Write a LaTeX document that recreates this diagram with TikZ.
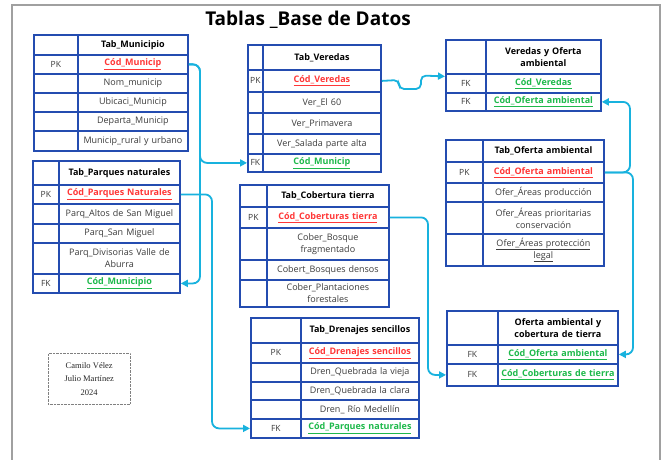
\documentclass[tikz,border=0pt]{standalone}
\usepackage{fontspec}
\setmainfont{Open Sans}
\newfontfamily\sigfont{Liberation Serif}
\usetikzlibrary{arrows.meta}
\definecolor{tblue}{RGB}{36,76,176}
\definecolor{tcyan}{RGB}{24,178,222}
\definecolor{pkred}{RGB}{255,55,55}
\definecolor{fkgreen}{RGB}{30,185,75}
\definecolor{txtgray}{RGB}{60,60,60}
\definecolor{framegray}{RGB}{160,160,160}
\newcommand\ulx[1]{\underline{#1}}
\newcommand\pkt[1]{\textcolor{pkred}{\bfseries\ulx{#1}}}
\newcommand\fkt[1]{\textcolor{fkgreen}{\bfseries\ulx{#1}}}
\newcommand\hdt[1]{\textcolor{black}{\bfseries #1}}
\newcommand\trow[8]{%
  \pgfmathsetmacro\cwA{#3-#2}%
  \pgfmathsetmacro\cwB{#4-#3-4}%
  \pgfmathsetmacro\chH{#6-#5}%
  \node[cell, keycell, minimum width=\cwA pt, minimum height=\chH pt] (#1k) at (#2,#5) {#7};
  \node[cell, text width=\cwB pt, minimum height=\chH pt] (#1) at (#3,#5) {#8};
}
\tikzset{
  cell/.style={draw=tblue, line width=1.8pt, anchor=north west, inner sep=2pt,
    align=center, font=\fontsize{9}{12}\selectfont, text=txtgray},
  keycell/.style={inner xsep=0pt, font=\fontsize{8.5}{11}\selectfont},
  conn/.style={draw=tcyan, line width=1.8pt, rounded corners=7pt,
    -{Triangle[length=7pt,width=7pt]}},
}
\begin{document}
\begin{tikzpicture}[x=1pt,y=-1pt]
\fill[white] (0,0) rectangle (667,460);
\useasboundingbox (0,0) rectangle (667,460);
\draw[framegray, line width=2.5pt] (12,470) -- (12,5) -- (660,5) -- (660,470);
\node[font=\bfseries\fontsize{19}{22}\selectfont] (title) at (308,20) {Tablas \_Base de Datos};

% Tab_Municipio
\trow{munh}{33}{77}{187}{34}{54}{}{\hdt{Tab\_Municipio}}
\trow{munpk}{33}{77}{187}{54}{73}{PK}{\pkt{Cód\_Municip}}
\trow{mun1}{33}{77}{187}{73}{92}{}{Nom\_municip}
\trow{mun2}{33}{77}{187}{92}{111}{}{Ubicaci\_Municip}
\trow{mun3}{33}{77}{187}{111}{130}{}{Departa\_Municip}
\trow{mun4}{33}{77}{187}{130}{150}{}{Municip\_rural y urbano}

% Tab_Parques naturales
\trow{parh}{32}{58}{179}{160}{184}{}{\hdt{Tab\_Parques naturales}}
\trow{parpk}{32}{58}{179}{184}{203}{PK}{\pkt{Cód\_Parques Naturales}}
\trow{par1}{32}{58}{179}{203}{223}{}{Parq\_Altos de San Miguel}
\trow{par2}{32}{58}{179}{223}{242}{}{Parq\_San Miguel}
\trow{par3}{32}{58}{179}{242}{273}{}{Parq\_Divisorias Valle de\\Aburra}
\trow{parfk}{32}{58}{179}{273}{292}{FK}{\fkt{Cód\_Municipio}}

% Tab_Veredas
\trow{verh}{247}{262}{380}{44}{69}{}{\hdt{Tab\_Veredas}}
\trow{verpk}{247}{262}{380}{69}{91}{PK}{\pkt{Cód\_Veredas}}
\trow{ver1}{247}{262}{380}{91}{112}{}{Ver\_El 60}
\trow{ver2}{247}{262}{380}{112}{133}{}{Ver\_Primavera}
\trow{ver3}{247}{262}{380}{133}{153}{}{Ver\_Salada parte alta}
\trow{verfk}{247}{262}{380}{153}{171}{FK}{\fkt{Cód\_Municip}}

% Tab_Cobertura tierra
\trow{cobh}{239}{266}{388}{184}{206}{}{\hdt{Tab\_Cobertura tierra}}
\trow{cobpk}{239}{266}{388}{206}{227}{PK}{\pkt{Cód\_Coberturas tierra}}
\trow{cob1}{239}{266}{388}{227}{259}{}{Cober\_Bosque\\fragmentado}
\trow{cob2}{239}{266}{388}{259}{279}{}{Cobert\_Bosques densos}
\trow{cob3}{239}{266}{388}{279}{306}{}{Cober\_Plantaciones\\forestales}

% Tab_Drenajes sencillos
\trow{dreh}{250}{300}{418}{317}{342}{}{\hdt{Tab\_Drenajes sencillos}}
\trow{drepk}{250}{300}{418}{342}{362}{PK}{\pkt{Cód\_Drenajes sencillos}}
\trow{dre1}{250}{300}{418}{362}{381}{}{Dren\_Quebrada la vieja}
\trow{dre2}{250}{300}{418}{381}{399}{}{Dren\_Quebrada la clara}
\trow{dre3}{250}{300}{418}{399}{418}{}{Dren\_ Río Medellín}
\trow{drefk}{250}{300}{418}{418}{437}{FK}{\fkt{Cód\_Parques naturales}}

% Veredas y Oferta ambiental
\trow{vyoh}{445}{485}{600}{39}{73}{}{\hdt{Veredas y Oferta\\ambiental}}
\trow{vyofka}{445}{485}{600}{73}{92}{FK}{\fkt{Cód\_Veredas}}
\trow{vyofkb}{445}{485}{600}{92}{110}{FK}{\fkt{Cód\_Oferta ambiental}}

% Tab_Oferta ambiental
\trow{ofh}{445}{482}{603}{139}{161}{}{\hdt{Tab\_Oferta ambiental}}
\trow{ofpk}{445}{482}{603}{161}{182}{PK}{\pkt{Cód\_Oferta ambiental}}
\trow{of1}{445}{482}{603}{182}{201}{}{Ofer\_Áreas producción}
\trow{of2}{445}{482}{603}{201}{233}{}{Ofer\_Áreas prioritarias\\conservación}
\trow{of3}{445}{482}{603}{233}{265}{}{\ulx{Ofer\_Áreas protección}\\\ulx{legal}}

% Oferta ambiental y cobertura de tierra
\trow{oych}{446}{497}{617}{310}{344}{}{\hdt{Oferta ambiental y\\cobertura de tierra}}
\trow{oycfka}{446}{497}{617}{344}{363}{FK}{\fkt{Cód\_Oferta ambiental}}
\trow{oycfkb}{446}{497}{617}{363}{385}{FK}{\fkt{Cód\_Coberturas de tierra}}

% signature
\node[draw=gray, densely dotted, minimum width=82pt, minimum height=51pt, anchor=north west,
  align=center, font=\sigfont\fontsize{8.5}{13.5}\selectfont, text=black!85] (sig) at (48,353)
  {Camilo Vélez\\Julio Martínez\\2024};

% connectors
\coordinate (m1) at (200,0);
\coordinate (m2) at (212,0);
\coordinate (m5) at (630,0);
\coordinate (m6) at (633,0);
\coordinate (m7) at (428,0);
\draw[conn] (munpk.east) -- (munpk.east -| m1) -- (verfkk.west -| m1) -- (verfkk.west);
\draw[conn] (munpk.east) -- (munpk.east -| m1) -- (parfk.east -| m1) -- (parfk.east);
\draw[conn] (parpk.east) -- (parpk.east -| m2) -- (drefkk.west -| m2) -- (drefkk.west);
\draw[conn, rounded corners=5pt] (verpk.east) -- (399,80) -- (399,89) -- (421,89) -- (421,75.5) -- ([yshift=7pt]vyofkak.west);
\draw[conn] (ofpk.east) -- (ofpk.east -| m5) -- (vyofkb.east -| m5) -- (vyofkb.east);
\draw[conn] (ofpk.east) -- (ofpk.east -| m6) -- (oycfka.east -| m6) -- (oycfka.east);
\draw[conn] (cobpk.east) -- (cobpk.east -| m7) -- (oycfkbk.west -| m7) -- (oycfkbk.west);
\end{tikzpicture}
\end{document}
